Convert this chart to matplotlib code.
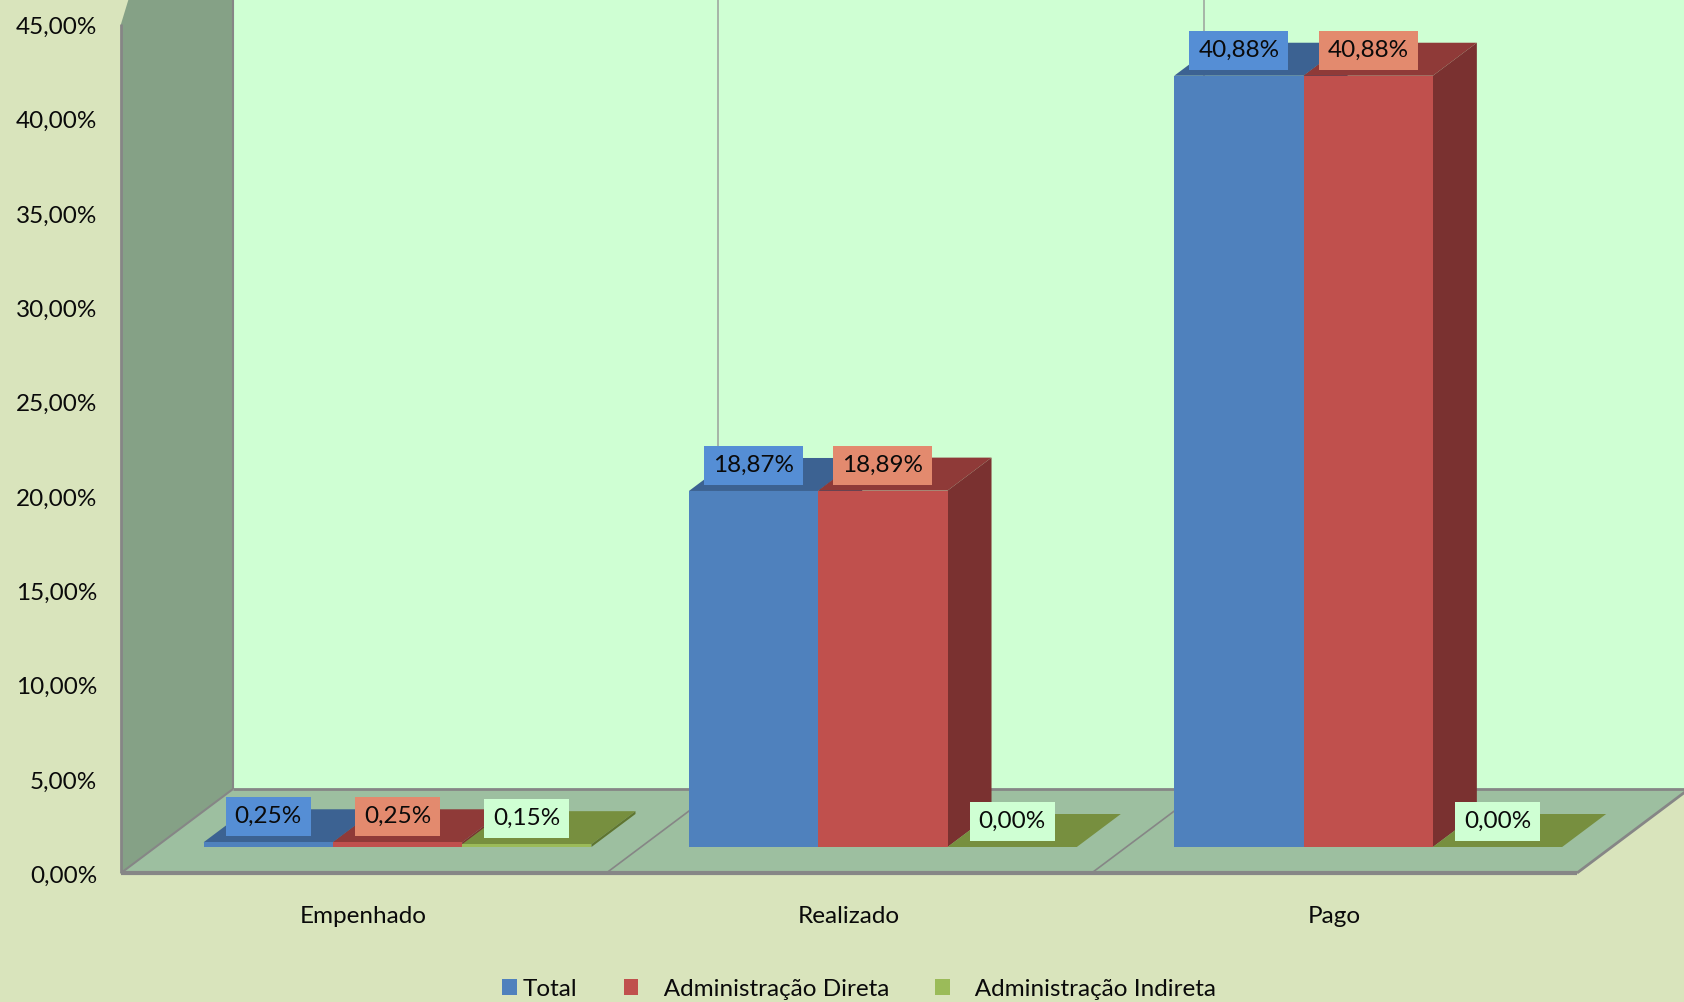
import matplotlib
matplotlib.use("Agg")
import matplotlib.pyplot as plt
from matplotlib.patches import Polygon, Patch
from matplotlib.transforms import ScaledTranslation

plt.rcParams['font.family'] = ['Lato', 'DejaVu Sans']

categories = ["Empenhado", "Realizado", "Pago"]
series_names = ["Total", "Administração Direta", "Administração Indireta"]
total = [0.25, 18.87, 40.88]
direta = [0.25, 18.89, 40.88]
indireta = [0.15, 0.00, 0.00]
y_ticks = [0, 5, 10, 15, 20, 25, 30, 35, 40, 45]

FRONT = ["#4F81BD", "#C0504D", "#9BBB59"]
TOP = ["#3C6292", "#8F3A38", "#778F3F"]
SIDE = ["#2F4F78", "#7A3130", "#5F7530"]
LABEL = ["#558ED5", "#E38A6E", "#CFFFD3"]
BG = "#D9E4BC"
WALL = "#CFFFD3"
FLOOR = "#9DBFA0"
LEFTWALL = "#85A186"
EDGE = "#868686"
TXT = "#0A0A0A"
FS = 17.5

W, H = 1684, 1002
fig = plt.figure(figsize=(W / 100, H / 100), dpi=100, facecolor=BG)
L, R, Y0, Y45 = 121, 1577, 873, 24
ax = fig.add_axes([L / W, 1 - Y0 / H, (R - L) / W, (Y0 - Y45) / H])
ax.set_xlim(0, 3)
ax.set_ylim(0, 45)
ax.patch.set_visible(False)
for s in ax.spines.values():
    s.set_visible(False)

# depth of the 3D box, expressed in data units
px_x = 3 / (R - L)
px_y = 45 / (Y0 - Y45)
DX, DY = 112 * px_x, 84 * px_y
BAR_W = 129.3 * px_x
GROUP_SHIFT = -0.8 * px_x
D_FRONT, D_BACK = 26 / 84, 59 / 84


def pr(x, y, d=0.0):
    return (x + d * DX, y + d * DY)


def poly(pts, color, z):
    ax.add_patch(Polygon(pts, closed=True, facecolor=color, edgecolor='none',
                         lw=0, zorder=z, clip_on=False))


top_wall = 60
# back wall, floor, left wall
poly([pr(0, 0, 1), pr(3, 0, 1), pr(3, top_wall, 1), pr(0, top_wall, 1)], WALL, 1)
poly([pr(0, 0, 0), pr(3, 0, 0), pr(3, 0, 1), pr(0, 0, 1)], FLOOR, 1)
poly([pr(0, 0, 0), pr(0, 0, 1), pr(0, top_wall, 1), pr(0, 45, 0)], LEFTWALL, 1)


def line(a, b, lw=1.5, color=EDGE, z=2):
    ax.plot([a[0], b[0]], [a[1], b[1]], color=color, lw=lw, zorder=z, clip_on=False,
            solid_capstyle='butt')


# grid lines on back wall and floor
for c in range(1, 3):
    line(pr(c, 0, 1), pr(c, top_wall, 1), lw=1.2, color="#A0A8A0")
    line(pr(c, 0, 0), pr(c, 0, 1), lw=1.2)
line(pr(3, 0, 0), pr(3, 0, 1), lw=2)
line(pr(0, 0, 1), pr(3, 0, 1), lw=2)
line(pr(0, 0, 0), pr(0, 0, 1), lw=1.5)
line(pr(0, 0, 1), pr(0, top_wall, 1), lw=1.5)
line(pr(0, 0, 0), pr(0, 45, 0), lw=2)
line(pr(0, 0, 0), pr(3, 0, 0), lw=3)

# bars
for c in range(len(categories)):
    for i, vals in enumerate([total, direta, indireta]):
        v = vals[c]
        x0 = c + 0.5 + GROUP_SHIFT - 1.5 * BAR_W + i * BAR_W
        x1 = x0 + BAR_W
        poly([pr(x0, v, D_FRONT), pr(x1, v, D_FRONT), pr(x1, v, D_BACK), pr(x0, v, D_BACK)], TOP[i], 5)
        if v > 0:
            poly([pr(x1, 0, D_FRONT), pr(x1, 0, D_BACK), pr(x1, v, D_BACK), pr(x1, v, D_FRONT)], SIDE[i], 5)
            poly([pr(x0, 0, D_FRONT), pr(x1, 0, D_FRONT), pr(x1, v, D_FRONT), pr(x0, v, D_FRONT)], FRONT[i], 5)
        xc, yc = pr((x0 + x1) / 2, v, D_FRONT)
        if i == 2 or c == 0 or v > 0:
            txt = f"{v:.2f}%".replace(".", ",")
            ax.annotate(txt, (xc, yc), xytext=(0, 18.4), textcoords='offset points',
                        ha='center', va='center', fontsize=FS, color=TXT, zorder=10,
                        bbox=dict(boxstyle='square,pad=0.37', fc=LABEL[i], ec='none'))

# axes ticks
ax.set_yticks(y_ticks)
ax.set_yticklabels([f"{t:.2f}%".replace(".", ",") for t in y_ticks], fontsize=FS, color=TXT)
ax.set_xticks([0.5, 1.5, 2.5])
ax.set_xticklabels(categories, fontsize=FS, color=TXT)
ax.tick_params(axis='both', length=0)
ax.tick_params(axis='y', pad=17)
ax.tick_params(axis='x', pad=24)
nudge = ScaledTranslation(0, -1.2 / 100, fig.dpi_scale_trans)
for lab in ax.get_yticklabels():
    lab.set_transform(lab.get_transform() + nudge)

handles = [Patch(facecolor=FRONT[i], edgecolor='none') for i in range(3)]
labels = [series_names[0], "   " + series_names[1], "   " + series_names[2]]
fig.legend(handles, labels, loc='center', bbox_to_anchor=(859 / W, 1 - 989 / H), ncols=3,
           frameon=False, fontsize=FS, handlelength=0.6, handleheight=0.6,
           handletextpad=0.26, columnspacing=1.9, labelcolor=TXT, borderpad=0)

fig.savefig("out.png", dpi=100, facecolor=BG)
